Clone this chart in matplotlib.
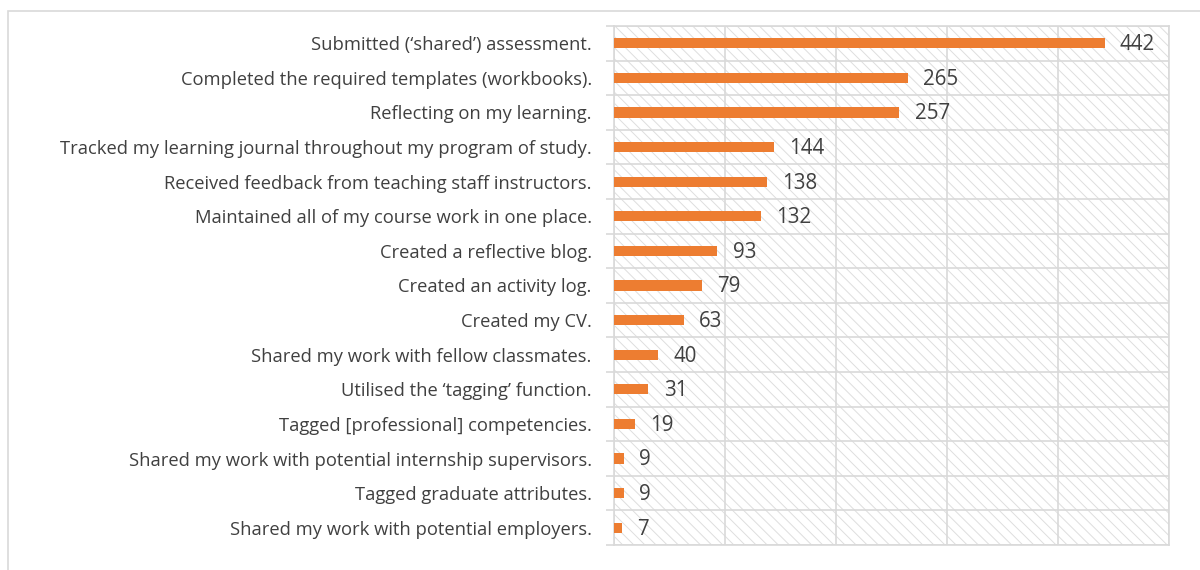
import matplotlib.pyplot as plt
from matplotlib.patches import Rectangle
import numpy as np

labels = [
    "Submitted (\u2018shared\u2019) assessment.",
    "Completed the required templates (workbooks).",
    "Reflecting on my learning.",
    "Tracked my learning journal throughout my program of study.",
    "Received feedback from teaching staff instructors.",
    "Maintained all of my course work in one place.",
    "Created a reflective blog.",
    "Created an activity log.",
    "Created my CV.",
    "Shared my work with fellow classmates.",
    "Utilised the \u2018tagging\u2019 function.",
    "Tagged [professional] competencies.",
    "Shared my work with potential internship supervisors.",
    "Tagged graduate attributes.",
    "Shared my work with potential employers.",
]
values = [442, 265, 257, 144, 138, 132, 93, 79, 63, 40, 31, 19, 9, 9, 7]
xticks = [0, 100, 200, 300, 400, 500]

plt.rcParams['font.family'] = ['Open Sans', 'DejaVu Sans']
plt.rcParams['hatch.color'] = '#dedede'
plt.rcParams['hatch.linewidth'] = 0.7

grid_c = '#d9d9d9'
text_c = '#404040'
bar_c = '#ed7d31'

fig = plt.figure(figsize=(12, 5.7), dpi=100)
# outer chart frame (cropped at right/bottom)
fig.patches.append(Rectangle((8 / 1200, -0.1), 1.2, 1 - 11 / 570 + 0.1,
                             transform=fig.transFigure, fill=False,
                             edgecolor=grid_c, linewidth=1.2))

ax = fig.add_axes([614 / 1200, 25 / 570, 555 / 1200, 519 / 570])
n = len(labels)
y = np.arange(n)

# hatched plot area
ax.add_patch(Rectangle((0, 0), 1, 1, transform=ax.transAxes, facecolor='white',
                       hatch='\\\\\\', edgecolor='#dedede', linewidth=0, zorder=0))

ax.barh(y, values, height=0.3, color=bar_c, zorder=3)
for yi, v in zip(y, values):
    ax.annotate(str(v), (v, yi), xytext=(11, -1), textcoords='offset points',
                va='center', ha='left', fontsize=14.8, color=text_c, zorder=4)

ax.set_xlim(0, 500)
ax.set_ylim(n - 0.5, -0.5)
ax.set_xticks(xticks)
ax.set_xticklabels([])
ax.tick_params(axis='x', length=0)
ax.set_yticks(y)
ax.set_yticklabels(labels, fontsize=13.2, color=text_c)
ax.set_yticks(np.arange(n + 1) - 0.5, minor=True)
ax.tick_params(axis='y', which='major', length=0, pad=16)
ax.tick_params(axis='y', which='minor', length=6, width=1.2, color=grid_c)
ax.grid(axis='x', which='major', color=grid_c, linewidth=1.2, zorder=1)
ax.grid(axis='y', which='minor', color=grid_c, linewidth=1.2, zorder=1)
for s in ax.spines.values():
    s.set_color(grid_c)
    s.set_linewidth(1.2)

fig.savefig('out.png', dpi=100)
